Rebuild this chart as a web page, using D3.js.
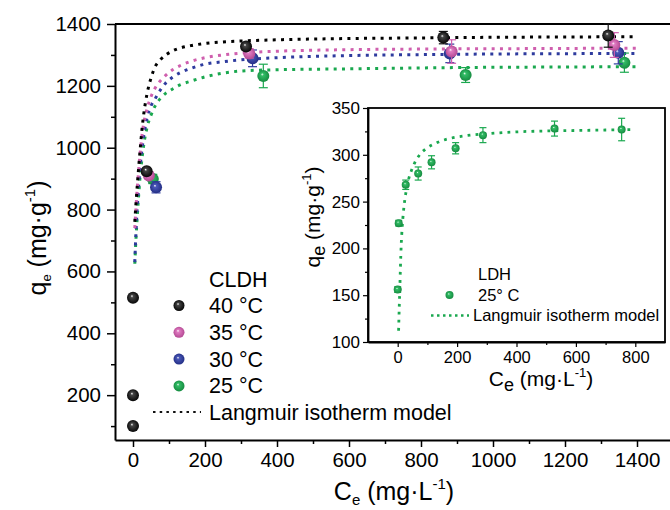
<!DOCTYPE html>
<html>
<head>
<meta charset="utf-8">
<script src="https://cdn.jsdelivr.net/npm/d3@7"></script>
<style>
  html, body { margin: 0; padding: 0; background: #fff; }
  svg { display: block; font-family: "Liberation Sans", Arial, sans-serif; }
</style>
</head>
<body>
<svg id="chart" width="670" height="510"></svg>
<script>
// ---------------- DATA ----------------
// Main chart: CLDH at four temperatures (Ce, qe, error)
const series40C = [0, 0, 0, 38, 314, 862, 1320];
const series40Q = [100, 200, 515, 924, 1327, 1356, 1363];
const series40E = [0, 0, 0, 8, 10, 20, 38];

const series35C = [44, 323, 885, 1337];
const series35Q = [910, 1305, 1311, 1332];
const series35E = [10, 15, 38, 40];

const series30C = [64, 332, 880, 1348];
const series30Q = [872, 1289, 1305, 1307];
const series30E = [18, 27, 30, 36];

const series25C = [55, 362, 924, 1365];
const series25Q = [899, 1232, 1235, 1275];
const series25E = [15, 38, 24, 31];

// Langmuir model curves
const fitC = [5, 8, 12, 16, 20, 25, 30, 40, 50, 60, 75, 90, 110, 130, 160, 200, 250, 300, 400, 600, 800, 1000, 1200, 1400];
const fit40 = [760, 815, 880, 940, 995, 1060, 1110, 1180, 1225, 1258, 1283, 1299, 1313, 1322, 1330, 1337, 1342, 1345, 1349, 1353, 1355, 1357, 1358, 1359];
const fit35 = [740, 800, 870, 930, 985, 1040, 1080, 1130, 1165, 1190, 1215, 1233, 1252, 1265, 1279, 1291, 1300, 1306, 1312, 1317, 1319, 1320, 1321, 1322];
const fit30 = [630, 720, 810, 880, 940, 995, 1040, 1100, 1135, 1155, 1185, 1208, 1228, 1242, 1256, 1270, 1278, 1284, 1291, 1298, 1301, 1303, 1304, 1305];
const fit25 = [625, 700, 780, 850, 910, 965, 1010, 1070, 1105, 1132, 1158, 1175, 1190, 1203, 1215, 1229, 1241, 1248, 1252, 1255, 1258, 1260, 1261, 1262];

// Inset: LDH at 25 °C
const ldhC = [0, 3.4, 27, 69, 114, 195, 287, 528, 754];
const ldhQ = [156, 227, 268, 280, 292, 307, 321, 328, 327];
const ldhE = [3, 3, 5, 7, 7, 6, 8, 8, 12];
const ldhFitC = [3, 5, 7, 9, 12, 15, 19, 24, 30, 36, 46, 58, 74, 97, 119, 148, 176, 232, 300, 400, 500, 600, 700, 800];
const ldhFitQ = [112, 135, 155, 178, 205, 222, 238, 252, 264, 273, 283, 292, 300, 307, 311, 315, 317.5, 320.5, 322.5, 324.5, 325.5, 326, 326.5, 327];

// Ticks
const mainXTicks = [0, 200, 400, 600, 800, 1000, 1200, 1400];
const mainXMinor = [100, 300, 500, 700, 900, 1100, 1300];
const mainYTicks = [200, 400, 600, 800, 1000, 1200, 1400];
const mainYMinor = [100, 300, 500, 700, 900, 1100, 1300];
const insetXTicks = [0, 200, 400, 600, 800];
const insetXMinor = [100, 300, 500, 700];
const insetYTicks = [100, 150, 200, 250, 300, 350];
const insetYMinor = [125, 175, 225, 275, 325];

const legendLabels = ["40 °C", "35 °C", "30 °C", "25 °C"];

// ---------------- DRAWING ----------------
const svg = d3.select("#chart");
const colors = { k: "#111111", p: "#cf5fae", b: "#2e3b9e", g: "#1aa84f" };
const fmt = d3.format("d");

// radial gradients for sphere-like markers
const defs = svg.append("defs");
function grad(id, hi, mid, edge) {
  const g = defs.append("radialGradient").attr("id", id)
    .attr("cx", "50%").attr("cy", "50%").attr("r", "55%")
    .attr("fx", "40%").attr("fy", "35%");
  g.append("stop").attr("offset", "0%").attr("stop-color", "#ffffff");
  g.append("stop").attr("offset", "22%").attr("stop-color", mid);
  g.append("stop").attr("offset", "100%").attr("stop-color", edge);
}
grad("gk", "#fff", "#444", "#000");
grad("gp", "#fff", "#e07cc2", "#b0448f");
grad("gb", "#fff", "#4a58b8", "#1f2a80");
grad("gg", "#fff", "#33bd66", "#13873d");

// Main scales
const x = d3.scaleLinear().domain([-50, 1500]).range([115, 673]);
const y = d3.scaleLinear().domain([55, 1400]).range([440, 24]);

// frame top
svg.append("line").attr("x1", 115).attr("x2", 673).attr("y1", 24).attr("y2", 24)
  .attr("stroke", "#000").attr("stroke-width", 2);

function styleAxis(g, fs) {
  g.select(".domain").attr("stroke", "#000").attr("stroke-width", 2);
  g.selectAll(".tick line").attr("stroke", "#000").attr("stroke-width", 1.5);
  g.selectAll(".tick text").attr("font-size", fs).attr("fill", "#000")
    .attr("font-family", "'Liberation Sans', Arial, sans-serif");
}

const gx = svg.append("g").attr("transform", "translate(0,440)")
  .call(d3.axisBottom(x).tickValues(mainXTicks).tickFormat(fmt).tickSize(7).tickSizeOuter(0).tickPadding(5));
styleAxis(gx, 20.5);
const gxm = svg.append("g").attr("transform", "translate(0,440)")
  .call(d3.axisBottom(x).tickValues(mainXMinor).tickSize(4).tickFormat(""));
gxm.select(".domain").remove();
gxm.selectAll(".tick line").attr("stroke", "#000").attr("stroke-width", 1.5);

const gy = svg.append("g").attr("transform", "translate(115,0)")
  .call(d3.axisLeft(y).tickValues(mainYTicks).tickFormat(fmt).tickSize(8).tickSizeOuter(0).tickPadding(6));
styleAxis(gy, 20.5);
const gym = svg.append("g").attr("transform", "translate(115,0)")
  .call(d3.axisLeft(y).tickValues(mainYMinor).tickSize(4).tickFormat(""));
gym.select(".domain").remove();
gym.selectAll(".tick line").attr("stroke", "#000").attr("stroke-width", 1.5);

// axis titles
const yt = svg.append("text").attr("transform", "translate(46,238) rotate(-90)")
  .attr("text-anchor", "middle").attr("font-size", 25).attr("fill", "#000");
yt.append("tspan").text("q");
yt.append("tspan").attr("font-size", 13).attr("dy", 5).text("e");
yt.append("tspan").attr("dy", -5).text(" (mg·g");
yt.append("tspan").attr("font-size", 15).attr("dy", -11).text("-1");
yt.append("tspan").attr("dy", 11).text(")");

const xt = svg.append("text").attr("x", 394).attr("y", 500)
  .attr("text-anchor", "middle").attr("font-size", 25).attr("fill", "#000");
xt.append("tspan").text("C");
xt.append("tspan").attr("font-size", 15).attr("dy", 5).text("e");
xt.append("tspan").attr("dy", -5).text(" (mg·L");
xt.append("tspan").attr("font-size", 15).attr("dy", -11).text("-1");
xt.append("tspan").attr("dy", 11).text(")");

// Langmuir curves
const lineMain = d3.line().x(d => x(d[0])).y(d => y(d[1])).curve(d3.curveMonotoneX);
[[fit25, colors.g], [fit30, colors.b], [fit35, colors.p], [fit40, "#000"]].forEach(([q, c]) => {
  svg.append("path").datum(fitC.map((cv, i) => [cv, q[i]]))
    .attr("d", lineMain).attr("fill", "none").attr("stroke", c)
    .attr("stroke-width", 3).attr("stroke-dasharray", "3,5.3");
});

// markers with error bars
function drawSeries(cs, qs, es, color, gid, r, sx, sy, cap) {
  const g = svg.append("g");
  cs.forEach((cv, i) => {
    const px = sx(cv), py = sy(qs[i]);
    if (es[i] > 0) {
      const y1 = sy(qs[i] + es[i]), y2 = sy(qs[i] - es[i]);
      g.append("line").attr("x1", px).attr("x2", px).attr("y1", y1).attr("y2", y2)
        .attr("stroke", color).attr("stroke-width", 1.2);
      [y1, y2].forEach(yy => g.append("line").attr("x1", px - cap).attr("x2", px + cap)
        .attr("y1", yy).attr("y2", yy).attr("stroke", color).attr("stroke-width", 1.2));
    }
    g.append("circle").attr("cx", px).attr("cy", py).attr("r", r)
      .attr("fill", `url(#${gid})`);
  });
}
drawSeries(series25C, series25Q, series25E, colors.g, "gg", 6, x, y, 4.5);
drawSeries(series30C, series30Q, series30E, colors.b, "gb", 6, x, y, 4.5);
drawSeries(series35C, series35Q, series35E, colors.p, "gp", 6, x, y, 4.5);
drawSeries(series40C, series40Q, series40E, colors.k, "gk", 6, x, y, 4.5);

// main legend
svg.append("text").attr("x", 209).attr("y", 287).attr("font-size", 21.5).attr("fill", "#000").text("CLDH");
const lgIds = ["gk", "gp", "gb", "gg"];
legendLabels.forEach((t, i) => {
  const cy = 305.5 + i * 26.8;
  svg.append("circle").attr("cx", 179).attr("cy", cy).attr("r", 5.5).attr("fill", `url(#${lgIds[i]})`);
  svg.append("text").attr("x", 209).attr("y", cy + 7.5).attr("font-size", 21.5).attr("fill", "#000").text(t);
});
svg.append("line").attr("x1", 153).attr("x2", 201).attr("y1", 412).attr("y2", 412)
  .attr("stroke", "#111").attr("stroke-width", 2.2).attr("stroke-dasharray", "2.5,4.2");
svg.append("text").attr("x", 209).attr("y", 420).attr("font-size", 21.5).attr("fill", "#000")
  .text("Langmuir isotherm model");

// ---------------- INSET ----------------
const xi = d3.scaleLinear().domain([-100, 900]).range([368, 665]);
const yi = d3.scaleLinear().domain([100, 350]).range([342, 108]);

svg.append("rect").attr("x", 368).attr("y", 108).attr("width", 297).attr("height", 234)
  .attr("fill", "#fff").attr("stroke", "#000").attr("stroke-width", 1.8);

const gxi = svg.append("g").attr("transform", "translate(0,342)")
  .call(d3.axisBottom(xi).tickValues(insetXTicks).tickFormat(fmt).tickSize(5).tickSizeOuter(0).tickPadding(4));
styleAxis(gxi, 16.5);
gxi.select(".domain").attr("stroke-width", 1.8);
gxi.selectAll(".tick line").attr("stroke-width", 1.2);
const gxim = svg.append("g").attr("transform", "translate(0,342)")
  .call(d3.axisBottom(xi).tickValues(insetXMinor).tickSize(3).tickFormat(""));
gxim.select(".domain").remove();
gxim.selectAll(".tick line").attr("stroke", "#000").attr("stroke-width", 1.2);

const gyi = svg.append("g").attr("transform", "translate(368,0)")
  .call(d3.axisLeft(yi).tickValues(insetYTicks).tickFormat(fmt).tickSize(5).tickSizeOuter(0).tickPadding(3));
styleAxis(gyi, 17);
gyi.select(".domain").attr("stroke-width", 1.8);
gyi.selectAll(".tick line").attr("stroke-width", 1.2);
const gyim = svg.append("g").attr("transform", "translate(368,0)")
  .call(d3.axisLeft(yi).tickValues(insetYMinor).tickSize(3).tickFormat(""));
gyim.select(".domain").remove();
gyim.selectAll(".tick line").attr("stroke", "#000").attr("stroke-width", 1.2);

// inset titles
const yti = svg.append("text").attr("transform", "translate(320,217) rotate(-90)")
  .attr("text-anchor", "middle").attr("font-size", 21).attr("fill", "#000");
yti.append("tspan").text("q");
yti.append("tspan").attr("font-size", 18).attr("dy", 5).text("e");
yti.append("tspan").attr("dy", -5).text(" (mg·g");
yti.append("tspan").attr("font-size", 13).attr("dy", -9).text("-1");
yti.append("tspan").attr("dy", 9).text(")");

const xti = svg.append("text").attr("x", 541).attr("y", 386)
  .attr("text-anchor", "middle").attr("font-size", 21).attr("fill", "#000");
xti.append("tspan").text("C");
xti.append("tspan").attr("font-size", 18).attr("dy", 5).text("e");
xti.append("tspan").attr("dy", -5).text(" (mg·L");
xti.append("tspan").attr("font-size", 13).attr("dy", -9).text("-1");
xti.append("tspan").attr("dy", 9).text(")");

// inset curve
const lineIn = d3.line().x(d => xi(d[0])).y(d => yi(d[1])).curve(d3.curveMonotoneX);
svg.append("path").datum(ldhFitC.map((cv, i) => [cv, ldhFitQ[i]]))
  .attr("d", lineIn).attr("fill", "none").attr("stroke", colors.g)
  .attr("stroke-width", 2.8).attr("stroke-dasharray", "2.8,5.2");

drawSeries(ldhC, ldhQ, ldhE, colors.g, "gg", 4, xi, yi, 3.5);

// inset legend
svg.append("text").attr("x", 478).attr("y", 280).attr("font-size", 16.5).attr("fill", "#000").text("LDH");
svg.append("circle").attr("cx", 449.5).attr("cy", 295).attr("r", 4).attr("fill", "url(#gg)");
svg.append("text").attr("x", 478).attr("y", 301).attr("font-size", 16.5).attr("fill", "#000").text("25° C");
svg.append("line").attr("x1", 431).attr("x2", 469).attr("y1", 315.5).attr("y2", 315.5)
  .attr("stroke", colors.g).attr("stroke-width", 2.5).attr("stroke-dasharray", "2.5,3.5");
svg.append("text").attr("x", 473).attr("y", 321).attr("font-size", 16.5).attr("fill", "#000")
  .text("Langmuir isotherm model");
</script>
</body>
</html>
